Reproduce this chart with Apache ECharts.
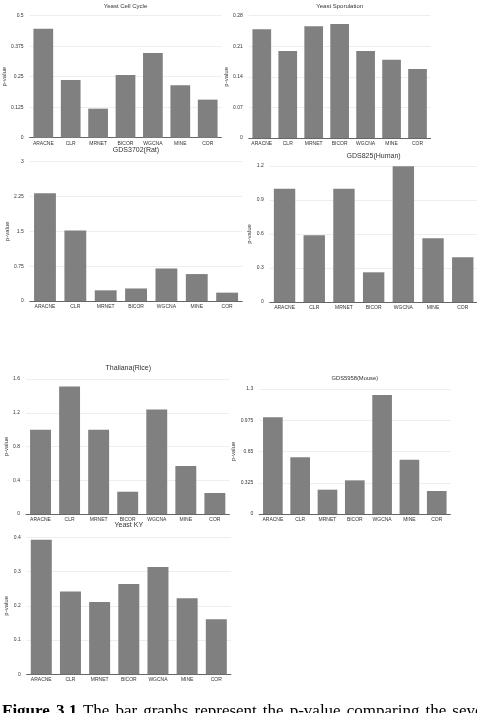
<!DOCTYPE html>
<html>
<head>
<meta charset="utf-8">
<script src="https://cdn.jsdelivr.net/npm/echarts@6/dist/echarts.min.js"></script>
<style>
  html, body { margin: 0; padding: 0; background: #fff; overflow: hidden; }
  #chart { width: 477px; height: 713px; }
  #caption {
    position: absolute;
    left: 2px;
    top: 702px;
    width: 475px;
    font: 17px/17px "Liberation Serif", serif;
    word-spacing: 1.8px;
    white-space: nowrap;
    overflow: hidden;
    color: #000;
  }
</style>
</head>
<body>
<div id="chart"></div>
<div id="caption"><b>Figure 3.1</b> The bar graphs represent the p-value comparing the seven</div>
<script>
const categories = ["ARACNE", "CLR", "MRNET", "BICOR", "WGCNA", "MINE", "COR"];

const yeastCellCycle = [0.447, 0.236, 0.119, 0.257, 0.347, 0.215, 0.156];
const yeastSporulation = [0.249, 0.199, 0.256, 0.261, 0.199, 0.179, 0.158];
const gds3702Rat = [2.32, 1.52, 0.23, 0.27, 0.7, 0.58, 0.18];
const gds825Human = [1.0, 0.59, 1.0, 0.262, 1.197, 0.562, 0.394];
const thalianaRice = [1.0, 1.51, 1.0, 0.264, 1.24, 0.569, 0.249];
const gds5958Mouse = [1.006, 0.59, 0.253, 0.35, 1.238, 0.565, 0.239];
const yeastKY = [0.393, 0.242, 0.211, 0.264, 0.313, 0.222, 0.161];

// axis max / tick step for each panel
const axisMax = [0.5, 0.28, 3, 1.2, 1.6, 1.3, 0.4];
const axisStep = [0.125, 0.07, 0.75, 0.3, 0.4, 0.325, 0.1];

const titles = [
  "Yeast Cell Cycle",
  "Yeast Sporulation",
  "GDS3702(Rat)",
  "GDS825(Human)",
  "Thaliana(Rice)",
  "GDS5958(Mouse)",
  "Yeast KY",
];
const seriesData = [
  yeastCellCycle,
  yeastSporulation,
  gds3702Rat,
  gds825Human,
  thalianaRice,
  gds5958Mouse,
  yeastKY,
];

// layout of each small chart on the page
const layout = [
  { left: 29.6, top: 15.7, width: 191.8, height: 122, tx: 125.5, ty: 6.5, tf: 6, gap: 20.5 },
  { left: 248.8, top: 15.7, width: 181.7, height: 122.3, tx: 339.7, ty: 6.7, tf: 6, gap: 17.8 },
  { left: 29.8, top: 161.7, width: 212.5, height: 139.3, tx: 136, ty: 151, tf: 7, gap: 18.5 },
  { left: 269.7, top: 166, width: 207.9, height: 136, tx: 373.6, ty: 156.7, tf: 7, gap: 17 },
  { left: 26, top: 379, width: 203.4, height: 135, tx: 128.3, ty: 368.3, tf: 7, gap: 16.8 },
  { left: 259.2, top: 389, width: 191.2, height: 125, tx: 354.8, ty: 379.3, tf: 5.8, gap: 23 },
  { left: 26.7, top: 537.3, width: 204.2, height: 137, tx: 128.8, ty: 526, tf: 7, gap: 17 },
];

const font = "Liberation Sans";
const textColor = "#333";

const myChart = echarts.init(document.getElementById("chart"));

const grid = [];
const xAxis = [];
const yAxis = [];
const series = [];
const title = [];

layout.forEach((p, i) => {
  grid.push({
    left: p.left,
    top: p.top,
    width: p.width,
    height: p.height,
    containLabel: false,
    outerBoundsMode: "none",
  });
  xAxis.push({
    type: "category",
    gridIndex: i,
    data: categories,
    axisTick: { show: false },
    axisLine: { lineStyle: { color: "#666", width: 1 } },
    axisLabel: {
      interval: 0,
      fontSize: 5,
      margin: 3,
      color: textColor,
      fontFamily: font,
    },
  });
  yAxis.push({
    type: "value",
    gridIndex: i,
    min: 0,
    max: axisMax[i],
    interval: axisStep[i],
    name: "p-value",
    nameLocation: "middle",
    nameGap: p.gap,
    nameTextStyle: { fontSize: 6, color: textColor, fontFamily: font },
    axisLine: { show: false },
    axisTick: { show: false },
    splitLine: { lineStyle: { color: "#eeeeee", width: 1 } },
    axisLabel: {
      fontSize: 5,
      margin: 6,
      color: textColor,
      fontFamily: font,
    },
  });
  series.push({
    type: "bar",
    xAxisIndex: i,
    yAxisIndex: i,
    barWidth: "72%",
    itemStyle: { color: "#808080" },
    data: seriesData[i],
  });
  title.push({
    text: titles[i],
    left: p.tx,
    top: p.ty - p.tf * 0.6,
    textAlign: "center",
    padding: 0,
    textStyle: {
      fontSize: p.tf,
      fontWeight: "normal",
      color: textColor,
      fontFamily: font,
    },
  });
});

const option = {
  animation: false,
  title: title,
  grid: grid,
  xAxis: xAxis,
  yAxis: yAxis,
  series: series,
};

myChart.setOption(option);
</script>
</body>
</html>
